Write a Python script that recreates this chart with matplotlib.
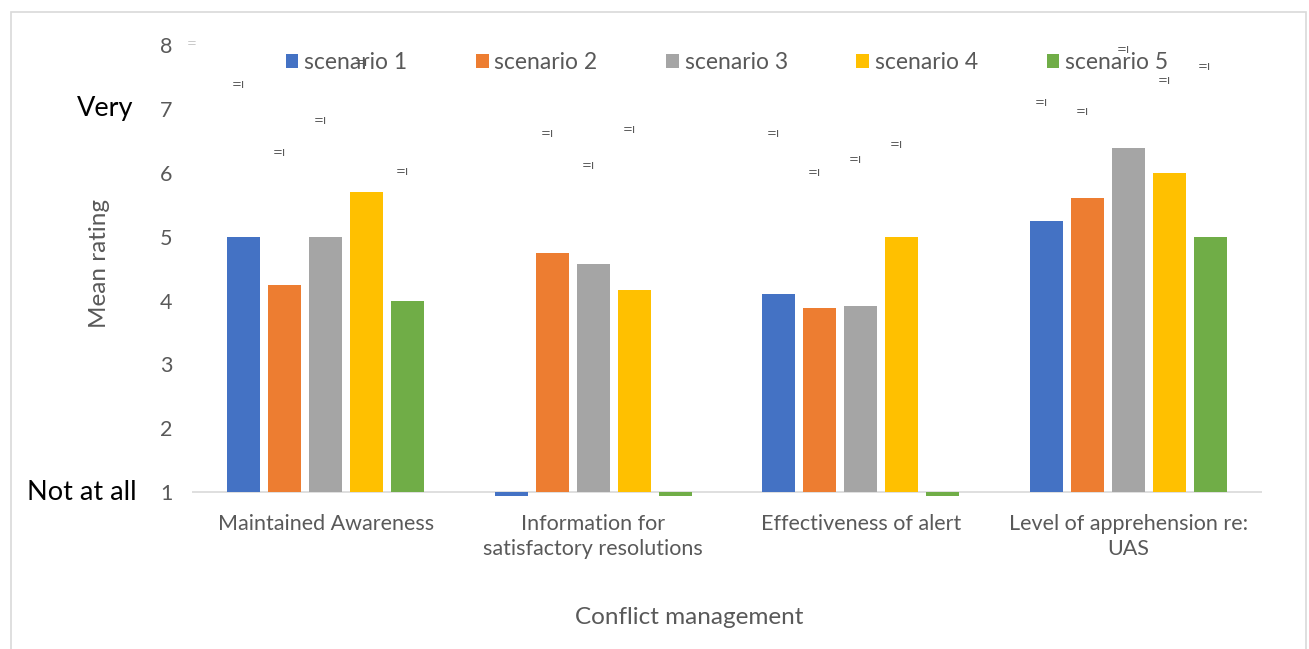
import matplotlib
matplotlib.use("Agg")
import matplotlib.pyplot as plt
import numpy as np
from matplotlib.patches import Rectangle

plt.rcParams["font.family"] = ["Lato", "DejaVu Sans"]

categories = [
    "Maintained Awareness",
    "Information for\nsatisfactory resolutions",
    "Effectiveness of alert",
    "Level of apprehension re:\nUAS",
]
series = ["scenario 1", "scenario 2", "scenario 3", "scenario 4", "scenario 5"]
values = [
    [5.0, 0.9, 4.1, 5.25],    # scenario 1
    [4.25, 4.75, 3.88, 5.6],  # scenario 2
    [5.0, 4.57, 3.92, 6.38],  # scenario 3
    [5.7, 4.17, 5.0, 6.0],    # scenario 4
    [4.0, 0.9, 0.9, 5.0],     # scenario 5
]
# heights of the small stray data labels (None = no label)
label_heights = [
    [7.38, None, 6.62, 7.10],
    [6.32, 6.62, 6.00, 6.96],
    [6.82, 6.12, 6.20, 7.93],
    [7.73, 6.68, 6.44, 7.45],
    [6.02, None, None, 7.67],
]
colors = ["#4472C4", "#ED7D31", "#A5A5A5", "#FFC000", "#70AD47"]
yticks = [1, 2, 3, 4, 5, 6, 7, 8]
grey = "#595959"

fig = plt.figure(figsize=(13.09, 6.49), dpi=100)
fig.patches.append(Rectangle((11 / 1309, -0.01), 1295 / 1309, 1 - 12 / 649 + 0.01,
                             transform=fig.transFigure, fill=False,
                             edgecolor="#D9D9D9", linewidth=1.2))

ax = fig.add_axes([192 / 1309, 1 - 496 / 649, 1070 / 1309, 451 / 649])
ymin = 0.94
x = np.arange(len(categories))
width = 0.123
step = 0.153
for i, (name, vals, col) in enumerate(zip(series, values, colors)):
    xs = x + (i - 2) * step
    heights = [v - 1 for v in vals]
    ax.bar(xs, heights, bottom=1, width=width, color=col, label=name, zorder=2)
    for xi, h in zip(xs, label_heights[i]):
        if h is not None:
            ax.text(xi + 0.005, h, "=ı", ha="right", va="center", fontsize=8.5,
                    family="DejaVu Sans", color=grey, zorder=3)

ax.text(-0.005, 8.03, "=", transform=ax.get_yaxis_transform(), ha="left",
        va="center", fontsize=8.5, family="DejaVu Sans", color="#C8C8C8")

ax.set_xlim(-0.5, 3.5)
ax.set_ylim(ymin, 8)
ax.axhline(1, color="#D9D9D9", linewidth=1.2, zorder=1)
for s in ax.spines.values():
    s.set_visible(False)
ax.set_yticks(yticks)
ax.set_yticklabels([str(t) for t in yticks], fontsize=15.5, color=grey)
ax.set_xticks(x)
ax.set_xticklabels(categories, fontsize=15.5, color=grey, linespacing=1.3)
ax.tick_params(axis="both", length=0)
ax.tick_params(axis="y", pad=14)
ax.tick_params(axis="x", pad=13)

ax.text(-0.055, 7, "Very", transform=ax.get_yaxis_transform(), ha="right",
        va="center", fontsize=19.5, color="black")
ax.text(-0.052, 1, "Not at all", transform=ax.get_yaxis_transform(), ha="right",
        va="center", fontsize=19.5, color="black")
ax.text(-0.086, 4.58, "Mean rating", transform=ax.get_yaxis_transform(), ha="center",
        va="center", rotation=90, fontsize=17.5, color=grey)
fig.text(689 / 1309, 1 - 617 / 649, "Conflict management", ha="center",
         va="center", fontsize=17.5, color=grey)

ax.legend(loc="upper center", bbox_to_anchor=(0.5, 1.015), ncol=5, frameon=False,
          fontsize=16.5, labelcolor=grey, handlelength=0.55, handleheight=0.55,
          handletextpad=0.25, columnspacing=3.0, borderaxespad=0.2)

fig.savefig("out.png", dpi=100)
